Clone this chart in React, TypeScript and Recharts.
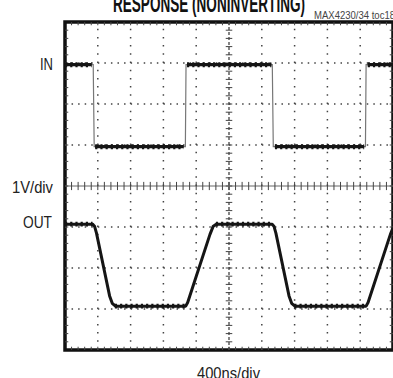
import { LineChart, Line, XAxis, YAxis, ReferenceLine, ReferenceArea } from "recharts";

// scope screen: 10 x 8 divisions, 400ns/div and 1V/div
const xDivs = [0, 10];
const yDivs = [-4, 4];
const majorX = [1, 2, 3, 4, 6, 7, 8, 9];
const majorY = [-3, -2, -1, 1, 2, 3];

// IN: square wave, whole trace incl. thin edges
const inTrace = [
  { t: 0, v: 2.96 },
  { t: 0.86, v: 2.96 },
  { t: 0.89, v: 0.96 },
  { t: 3.67, v: 0.96 },
  { t: 3.69, v: 2.96 },
  { t: 6.32, v: 2.96 },
  { t: 6.35, v: 0.96 },
  { t: 9.16, v: 0.96 },
  { t: 9.18, v: 2.96 },
  { t: 10, v: 2.96 },
];

// IN: heavy flat parts only
const inFlats = [
  { t: 0, v: 2.96 },
  { t: 0.81, v: 2.96 },
  { t: 0.86, v: null },
  { t: 0.92, v: 0.96 },
  { t: 3.62, v: 0.96 },
  { t: 3.67, v: null },
  { t: 3.72, v: 2.96 },
  { t: 6.29, v: 2.96 },
  { t: 6.34, v: null },
  { t: 6.4, v: 0.96 },
  { t: 9.12, v: 0.96 },
  { t: 9.17, v: null },
  { t: 9.23, v: 2.96 },
  { t: 10, v: 2.96 },
];

// OUT: slew-limited response
const outTrace = [
  { t: 0, v: -0.93 },
  { t: 0.84, v: -0.93 },
  { t: 0.9, v: -0.98 },
  { t: 0.96, v: -1.15 },
  { t: 1.36, v: -2.68 },
  { t: 1.44, v: -2.86 },
  { t: 1.54, v: -2.93 },
  { t: 3.68, v: -2.93 },
  { t: 3.74, v: -2.84 },
  { t: 4.42, v: -1.18 },
  { t: 4.52, v: -0.98 },
  { t: 4.62, v: -0.93 },
  { t: 6.31, v: -0.93 },
  { t: 6.37, v: -0.98 },
  { t: 6.43, v: -1.15 },
  { t: 6.83, v: -2.68 },
  { t: 6.91, v: -2.86 },
  { t: 7.01, v: -2.93 },
  { t: 9.18, v: -2.93 },
  { t: 9.24, v: -2.84 },
  { t: 9.92, v: -1.18 },
  { t: 10, v: -1.02 },
];

// OUT: noisy flat parts, drawn heavier
const outFlats = [
  { t: 0, v: -0.93 },
  { t: 0.84, v: -0.93 },
  { t: 0.9, v: null },
  { t: 1.52, v: -2.93 },
  { t: 3.68, v: -2.93 },
  { t: 3.74, v: null },
  { t: 4.6, v: -0.93 },
  { t: 6.31, v: -0.93 },
  { t: 6.37, v: null },
  { t: 6.99, v: -2.93 },
  { t: 9.18, v: -2.93 },
];

const minorX = Array.from({ length: 49 }, (_, i) => +((i + 1) * 0.2).toFixed(2));
const minorY = Array.from({ length: 39 }, (_, i) => +(-3.8 + i * 0.2).toFixed(2));

const labelFont = "'Liberation Sans Narrow', 'Liberation Sans', Arial, sans-serif";

export default function App() {
  return (
    <div
      style={{
        position: "absolute",
        left: 0,
        top: 0,
        width: 393,
        height: 378,
        overflow: "hidden",
        background: "#fff",
      }}
    >
      <LineChart width={393} height={378} margin={{ top: 22, right: 0, bottom: 28, left: 65 }}>
        <XAxis type="number" dataKey="t" domain={xDivs} hide allowDataOverflow />
        <YAxis type="number" domain={yDivs} hide allowDataOverflow />

        {/* dotted graticule */}
        {majorX.map((x) => (
          <ReferenceLine key={"gx" + x} x={x} stroke="#444" strokeWidth={1.5} strokeDasharray="1.5 6.7" />
        ))}
        {majorY.map((y) => (
          <ReferenceLine key={"gy" + y} y={y} stroke="#444" strokeWidth={1.5} strokeDasharray="1.5 5.06" />
        ))}

        {/* center axes with minor ticks */}
        <ReferenceLine y={0} stroke="#666" strokeWidth={1} />
        <ReferenceLine x={5} stroke="#444" strokeWidth={1.3} strokeDasharray="3 2" />
        {minorX.map((x) => (
          <ReferenceLine
            key={"cx" + x}
            segment={[{ x, y: -0.1 }, { x, y: 0.1 }]}
            stroke="#444"
            strokeWidth={1}
          />
        ))}
        {minorY.map((y) => (
          <ReferenceLine
            key={"cy" + y}
            segment={[{ x: 4.9, y }, { x: 5.1, y }]}
            stroke="#444"
            strokeWidth={1}
          />
        ))}

        {/* edge ticks */}
        {minorX.map((x) => (
          <ReferenceLine key={"tt" + x} segment={[{ x, y: 4 }, { x, y: 3.92 }]} stroke="#444" strokeWidth={1} />
        ))}
        {minorX.map((x) => (
          <ReferenceLine key={"bt" + x} segment={[{ x, y: -4 }, { x, y: -3.92 }]} stroke="#444" strokeWidth={1} />
        ))}
        {minorY.map((y) => (
          <ReferenceLine key={"lt" + y} segment={[{ x: 0, y }, { x: 0.1, y }]} stroke="#444" strokeWidth={1} />
        ))}
        {minorY.map((y) => (
          <ReferenceLine key={"rt" + y} segment={[{ x: 10, y }, { x: 9.9, y }]} stroke="#444" strokeWidth={1} />
        ))}

        <Line
          data={inTrace}
          dataKey="v"
          type="linear"
          stroke="#777"
          strokeWidth={1.2}
          dot={false}
          isAnimationActive={false}
        />
        <Line
          data={inFlats}
          dataKey="v"
          type="linear"
          stroke="#151515"
          strokeWidth={3.2}
          dot={false}
          isAnimationActive={false}
        />
        <Line
          data={inFlats}
          dataKey="v"
          type="linear"
          stroke="#151515"
          strokeWidth={5}
          strokeDasharray="2.2 3"
          dot={false}
          isAnimationActive={false}
        />
        <Line
          data={outTrace}
          dataKey="v"
          type="linear"
          stroke="#151515"
          strokeWidth={3}
          strokeLinejoin="round"
          dot={false}
          isAnimationActive={false}
        />
        <Line
          data={outFlats}
          dataKey="v"
          type="linear"
          stroke="#151515"
          strokeWidth={4.6}
          strokeDasharray="2.2 3"
          dot={false}
          isAnimationActive={false}
        />

        <ReferenceArea x1={0} x2={10} y1={-4} y2={4} fill="none" stroke="#111" strokeWidth={3.5} />
      </LineChart>

      <svg
        width={393}
        height={378}
        style={{ position: "absolute", left: 0, top: 0, pointerEvents: "none" }}
      >
        <text
          x={113}
          y={12}
          fontFamily={labelFont}
          fontWeight="bold"
          fontSize={23}
          fill="#111"
          textLength={192}
          lengthAdjust="spacingAndGlyphs"
        >
          RESPONSE (NONINVERTING)
        </text>
        <text
          x={314}
          y={18.5}
          fontFamily={labelFont}
          fontSize={11}
          fill="#444"
          textLength={81}
          lengthAdjust="spacingAndGlyphs"
        >
          MAX4230/34 toc18
        </text>
        <text x={40} y={69.5} fontFamily={labelFont} fontSize={16.5} fill="#222" textLength={13} lengthAdjust="spacingAndGlyphs">
          IN
        </text>
        <text x={12} y={193} fontFamily={labelFont} fontSize={16.5} fill="#222" textLength={41} lengthAdjust="spacingAndGlyphs">
          1V/div
        </text>
        <text x={23} y={228} fontFamily={labelFont} fontSize={16.5} fill="#222" textLength={29} lengthAdjust="spacingAndGlyphs">
          OUT
        </text>
        <text x={197} y={379} fontFamily={labelFont} fontSize={16.5} fill="#222" textLength={63} lengthAdjust="spacingAndGlyphs">
          400ns/div
        </text>
      </svg>
    </div>
  );
}
